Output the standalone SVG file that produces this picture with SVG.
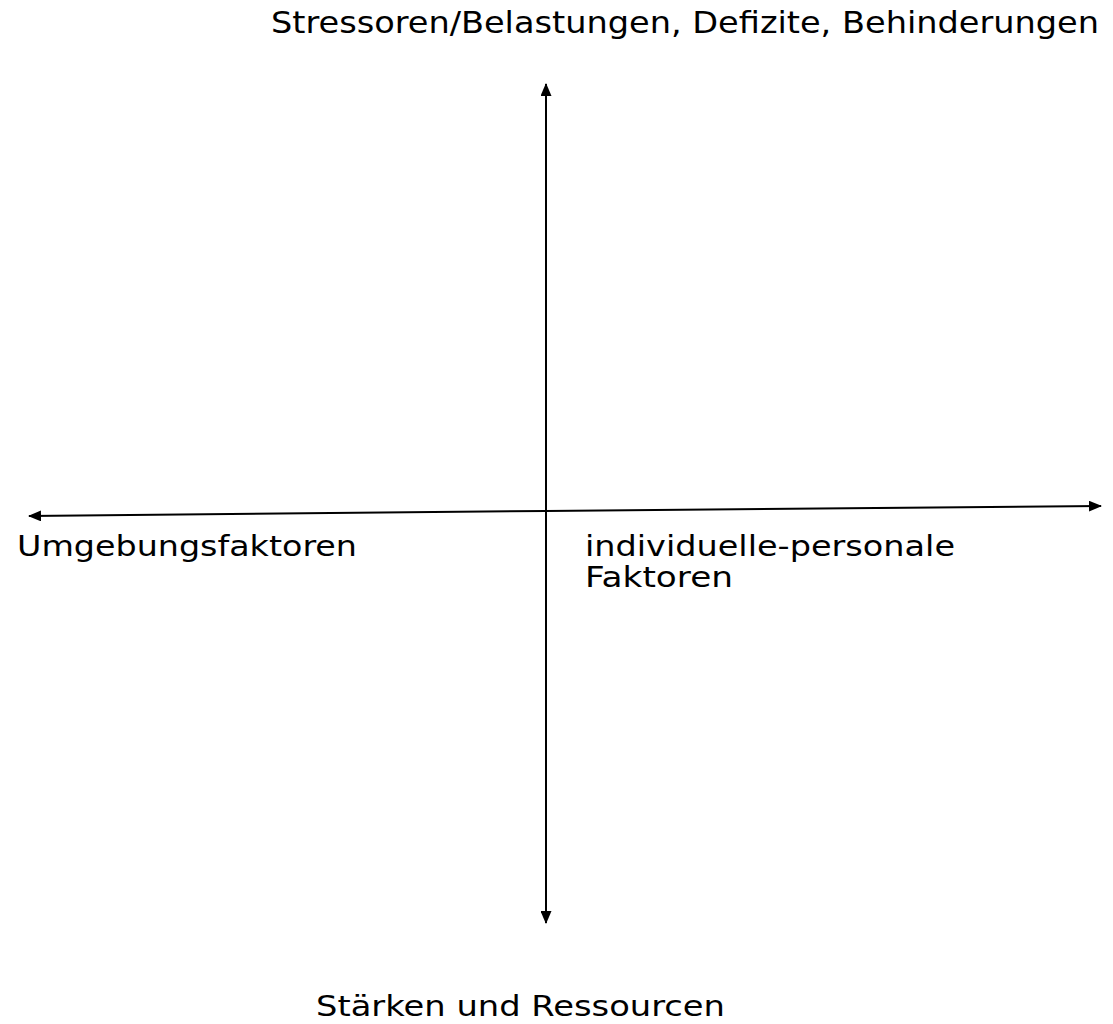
<svg xmlns="http://www.w3.org/2000/svg" width="1113" height="1024" viewBox="0 0 1113 1024">
<style>
text{font-family:"DejaVu Sans",Verdana,sans-serif;font-size:29px;fill:#000}
#top text{font-size:30px}
.ax{stroke:#000;stroke-width:2;fill:none}
</style>
<defs>
<marker id="ah" viewBox="0 0 13 11" refX="12" refY="5.5" markerWidth="13" markerHeight="11" markerUnits="userSpaceOnUse" orient="auto">
<path d="M0,0 L13,5.5 L0,11 Z" fill="#000"/>
</marker>
</defs>
<rect width="1113" height="1024" fill="#fff"/>
<g id="connectors">
<line class="ax" x1="546" y1="510" x2="546" y2="84" marker-end="url(#ah)"/>
<line class="ax" x1="546" y1="510" x2="546" y2="923" marker-end="url(#ah)"/>
<line class="ax" x1="546" y1="511" x2="29" y2="516" marker-end="url(#ah)"/>
<line class="ax" x1="546" y1="511" x2="1101" y2="506" marker-end="url(#ah)"/>
</g>
<g id="top"><text x="271" y="33" textLength="828" lengthAdjust="spacingAndGlyphs">Stressoren/Belastungen, Defizite, Behinderungen</text></g>
<g id="left"><text x="17" y="556" textLength="340" lengthAdjust="spacingAndGlyphs">Umgebungsfaktoren</text></g>
<g id="right"><text x="585" y="556" textLength="370" lengthAdjust="spacingAndGlyphs">individuelle-personale</text><text x="585" y="587" textLength="148" lengthAdjust="spacingAndGlyphs">Faktoren</text></g>
<g id="bottom"><text x="316" y="1016" textLength="409" lengthAdjust="spacingAndGlyphs">Stärken und Ressourcen</text></g>
</svg>
